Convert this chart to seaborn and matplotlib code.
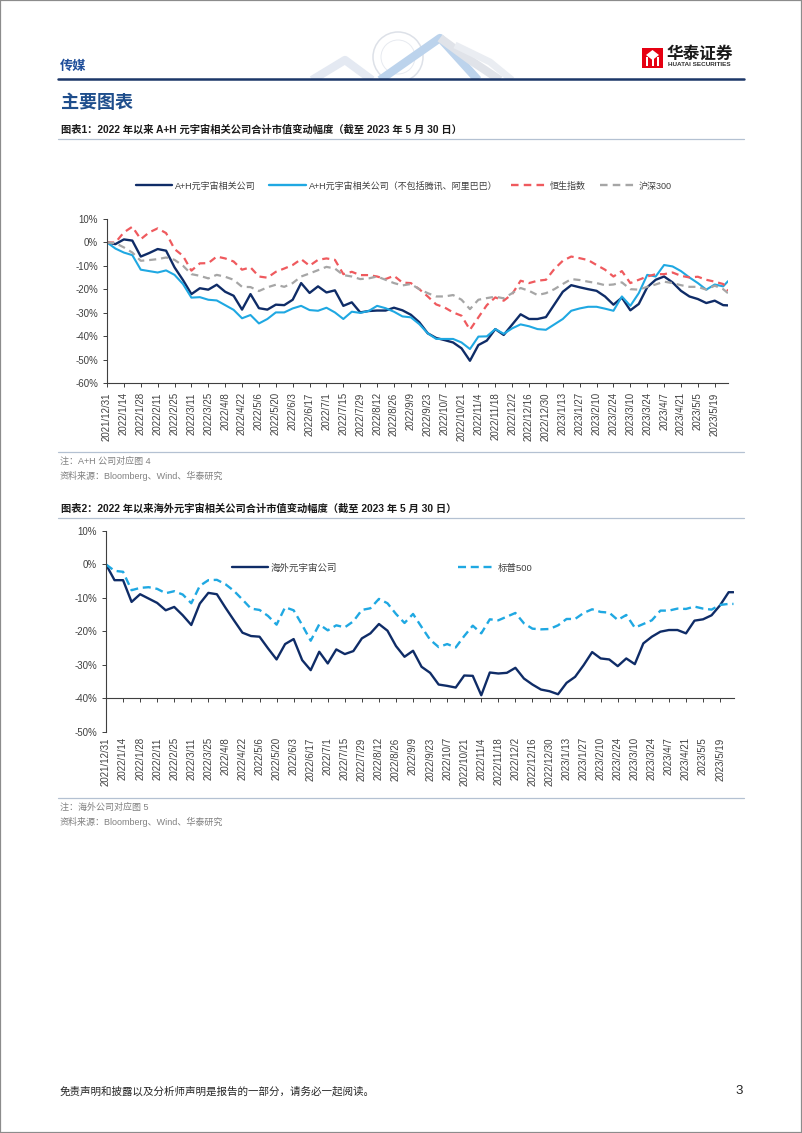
import matplotlib
matplotlib.use("Agg")
import matplotlib.pyplot as plt
import seaborn as sns
import pandas as pd
import numpy as np
import matplotlib.dates as mdates
from matplotlib.lines import Line2D
from matplotlib.patches import Rectangle, Circle, Polygon

sns.set_theme(style="white")
plt.rcParams["font.family"] = ["Liberation Sans", "Noto Sans CJK SC", "DejaVu Sans"]
plt.rcParams["axes.unicode_minus"] = False

# ---------------- data ----------------
dates = list(pd.date_range("2021-12-31", "2023-05-26", freq="7D")) + [pd.Timestamp("2023-05-30")]

tick_labels = ["2021/12/31", "2022/1/14", "2022/1/28", "2022/2/11", "2022/2/25", "2022/3/11",
               "2022/3/25", "2022/4/8", "2022/4/22", "2022/5/6", "2022/5/20", "2022/6/3",
               "2022/6/17", "2022/7/1", "2022/7/15", "2022/7/29", "2022/8/12", "2022/8/26",
               "2022/9/9", "2022/9/23", "2022/10/7", "2022/10/21", "2022/11/4", "2022/11/18",
               "2022/12/2", "2022/12/16", "2022/12/30", "2023/1/13", "2023/1/27", "2023/2/10",
               "2023/2/24", "2023/3/10", "2023/3/24", "2023/4/7", "2023/4/21", "2023/5/5",
               "2023/5/19"]

# chart 1 (%)
ah_all = [0, -0.7, 1.3, 0.8, -6.0, -4.5, -2.8, -3.5, -10.6, -16.0, -22.0, -19.5, -20.1, -18.0,
          -21.0, -22.7, -28.6, -22.0, -28.0, -28.6, -26.5, -26.7, -24.4, -17.3, -21.5, -18.7,
          -21.3, -20.4, -27.0, -25.5, -29.8, -29.2, -29.0, -29.0, -27.8, -28.9, -30.8, -34.0,
          -38.7, -40.7, -41.6, -42.6, -45.1, -50.4, -43.7, -41.8, -36.9, -39.4, -35.0, -30.6,
          -32.6, -32.6, -31.8, -26.4, -21.0, -18.2, -19.1, -19.9, -20.6, -23.0, -26.5, -23.5,
          -28.9, -26.2, -19.1, -15.9, -14.5, -17.0, -20.6, -23.0, -24.1, -25.8, -24.8, -26.7,
          -26.8]
ah_ex = [0, -2.6, -4.3, -5.4, -11.6, -12.2, -12.8, -11.9, -13.8, -17.7, -23.5, -23.3, -24.4,
         -24.7, -26.7, -28.7, -32.3, -30.9, -34.5, -32.6, -29.8, -29.8, -28.1, -27.0, -28.8,
         -29.1, -27.8, -29.8, -32.6, -29.5, -30.0, -29.2, -27.0, -28.0, -29.5, -31.5, -31.9,
         -34.8, -38.7, -41.1, -41.1, -41.1, -42.6, -45.4, -40.1, -40.0, -36.9, -38.9, -36.6,
         -34.9, -35.7, -36.9, -37.2, -34.9, -32.6, -29.1, -28.1, -27.4, -27.4, -28.2, -29.1,
         -23.0, -27.0, -21.6, -13.8, -14.5, -9.6, -10.2, -12.2, -14.9, -17.3, -20.1, -17.9,
         -18.7, -16.5]
hsi = [0, 0.0, 4.3, 6.7, 1.4, 4.3, 6.0, 4.0, -2.8, -5.7, -12.0, -8.9, -8.8, -6.0, -6.8, -8.1,
       -11.6, -10.6, -14.5, -15.0, -12.5, -11.1, -9.6, -7.1, -9.9, -7.4, -6.8, -7.4, -13.5,
       -12.5, -13.9, -13.9, -14.5, -15.6, -14.2, -17.1, -17.3, -19.9, -23.0, -26.4, -27.7,
       -29.8, -31.2, -37.2, -31.9, -26.7, -23.4, -24.8, -22.0, -16.3, -17.3, -16.3, -15.9,
       -11.3, -7.8, -6.0, -6.7, -7.5, -9.6, -11.6, -14.5, -12.2, -17.3, -15.9, -14.5, -13.5,
       -13.5, -12.8, -14.2, -14.9, -14.6, -15.9, -16.7, -17.7, -20.6]
csi300 = [0, -0.3, -2.1, -4.3, -7.8, -7.5, -7.1, -6.4, -7.4, -9.9, -13.5, -14.2, -15.3, -13.8,
          -14.6, -15.9, -18.9, -19.0, -20.7, -19.1, -18.0, -18.9, -17.3, -14.5, -13.2, -11.8,
          -10.4, -11.1, -13.9, -14.5, -15.6, -15.3, -14.5, -15.9, -17.3, -18.3, -17.7, -19.9,
          -21.6, -23.0, -23.0, -22.4, -24.4, -28.4, -24.4, -23.7, -23.1, -23.8, -21.6, -19.4,
          -20.6, -22.4, -21.6, -19.9, -17.7, -15.6, -16.0, -16.7, -17.3, -18.2, -17.9, -17.0,
          -19.9, -20.1, -18.9, -17.9, -16.7, -17.3, -18.2, -18.9, -18.9, -20.1, -18.4, -19.9,
          -21.6]

# chart 2 (%)
overseas = [0, -4.7, -4.7, -11.2, -8.9, -10.2, -11.5, -13.7, -12.7, -15.2, -18.1, -11.7, -8.5,
            -8.9, -12.9, -16.7, -20.4, -21.4, -21.6, -25.1, -28.4, -23.8, -22.3, -28.6, -31.6,
            -26.1, -29.6, -25.4, -26.8, -25.9, -22.1, -20.6, -17.8, -19.8, -24.4, -27.6, -25.8,
            -30.6, -32.4, -35.9, -36.3, -36.8, -33.2, -33.3, -39.1, -32.3, -32.6, -32.4, -30.9,
            -34.1, -35.9, -37.4, -37.9, -38.8, -35.4, -33.6, -30.1, -26.2, -28.1, -28.4, -30.4,
            -28.1, -29.8, -23.6, -21.6, -20.1, -19.6, -19.6, -20.6, -16.8, -16.4, -15.2, -12.2,
            -8.3, -8.3]
sp500 = [0, -1.9, -2.2, -7.7, -7.0, -6.8, -7.3, -8.6, -8.0, -9.0, -11.6, -6.4, -4.7, -4.6,
         -5.9, -7.9, -10.5, -13.2, -13.6, -15.4, -18.0, -12.8, -13.7, -18.1, -22.8, -17.9,
         -19.7, -18.2, -18.8, -17.0, -13.6, -13.1, -10.3, -11.6, -14.8, -17.5, -14.8, -18.7,
         -22.5, -24.7, -23.8, -24.8, -21.4, -18.3, -20.6, -16.4, -16.7, -15.6, -14.5, -17.6,
         -19.2, -19.4, -19.3, -18.2, -16.3, -16.3, -14.5, -13.4, -14.2, -14.4, -16.6, -15.1,
         -18.9, -17.8, -16.7, -13.8, -13.8, -13.2, -13.3, -12.6, -13.2, -13.5, -12.1, -11.8,
         -11.8]

series1 = ["A+H元宇宙相关公司", "A+H元宇宙相关公司（不包括腾讯、阿里巴巴）", "恒生指数", "沪深300"]
series2 = ["海外元宇宙公司", "标普500"]

# ---------------- layout helpers ----------------
W, H = 802, 1133
fig = plt.figure(figsize=(W / 100, H / 100), dpi=100)
fig.patch.set_facecolor("white")


def fx(x):
    return x / W


def fy(y):
    return 1 - y / H


DARK = "#404040"
GREY_TXT = "#808080"
tick_dates = pd.date_range("2021-12-31", "2023-05-19", freq="14D")

# ---------------- page frame & header ----------------
fig.add_artist(Rectangle((0, 0), 1, 1, transform=fig.transFigure, fill=False,
                         edgecolor="#8c8c8c", lw=1.6))

# decorative watermark (globe + ribbons)
axd = fig.add_axes([fx(300), fy(80), fx(220), fy(30) - fy(80)])
axd.set_xlim(300, 520)
axd.set_ylim(80, 30)
axd.axis("off")
axd.add_patch(Circle((398, 57), 25, fill=False, ec="#dde1e8", lw=1.1))
axd.add_patch(Circle((398, 57), 17, fill=False, ec="#e7eaf0", lw=0.7))
axd.plot([312, 345, 372], [80, 60, 80], color="#e4e9f2", lw=6, solid_capstyle="butt")
axd.plot([380, 440, 478], [80, 38, 80], color="#bcd3ec", lw=6, solid_capstyle="butt")
axd.plot([440, 470, 500], [38, 60, 80], color="#e0e3e9", lw=6, solid_capstyle="butt")
axd.plot([455, 490, 512], [45, 62, 80], color="#eaedf2", lw=5, solid_capstyle="butt")

fig.text(fx(60), fy(67), "传媒", fontsize=9.5, fontweight="bold", color="#1F4E9A", va="center")

# logo
fig.add_artist(Rectangle((fx(642), fy(68)), fx(21), fy(48) - fy(68), transform=fig.transFigure,
                         facecolor="#E60012", edgecolor="none"))
for xx in (646, 651.5, 657):
    fig.add_artist(Rectangle((fx(xx), fy(66)), fx(2), fy(57) - fy(66), transform=fig.transFigure,
                             facecolor="white", edgecolor="none"))
fig.add_artist(Polygon([(fx(652.5), fy(50)), (fx(659), fy(55)), (fx(652.5), fy(60)), (fx(646), fy(55))],
                       closed=True, transform=fig.transFigure, facecolor="white", edgecolor="none"))
fig.text(fx(667), fy(54), "华泰证券", fontsize=12, fontweight="bold", color="#1a1a1a", va="center")
fig.text(fx(668), fy(65), "HUATAI SECURITIES", fontsize=4.6, fontweight="bold", color="#333333",
         va="center")

fig.add_artist(Line2D([fx(58), fx(744)], [fy(79), fy(79)], transform=fig.transFigure,
                      color="#1c3768", lw=1.8))

fig.text(fx(61), fy(103), "主要图表", fontsize=13, fontweight="bold", color="#1F4E8C", va="center")


def section(y_title, title, y_line):
    fig.text(fx(61), fy(y_title), title, fontsize=7.4, fontweight="bold", color="#1a1a1a",
             va="center")
    fig.add_artist(Line2D([fx(58), fx(744)], [fy(y_line), fy(y_line)], transform=fig.transFigure,
                          color="#b4c1d2", lw=0.9))


section(130, "图表1：2022 年以来 A+H 元宇宙相关公司合计市值变动幅度（截至 2023 年 5 月 30 日）", 139)
section(509, "图表2：2022 年以来海外元宇宙相关公司合计市值变动幅度（截至 2023 年 5 月 30 日）", 518)


def notes(y_line, y1, t1, y2, t2):
    fig.add_artist(Line2D([fx(58), fx(744)], [fy(y_line), fy(y_line)], transform=fig.transFigure,
                          color="#b4c1d2", lw=0.9))
    fig.text(fx(60), fy(y1), t1, fontsize=6.5, color=GREY_TXT, va="center")
    fig.text(fx(60), fy(y2), t2, fontsize=6.5, color=GREY_TXT, va="center")


notes(452, 461, "注：A+H 公司对应图 4", 476, "资料来源：Bloomberg、Wind、华泰研究")
notes(798, 807, "注：海外公司对应图 5", 822, "资料来源：Bloomberg、Wind、华泰研究")

fig.text(fx(60), fy(1091), "免责声明和披露以及分析师声明是报告的一部分，请务必一起阅读。",
         fontsize=7.6, color="#262626", va="center")
fig.text(fx(743), fy(1091), "3", fontsize=9.5, color="#262626", va="center", ha="right")


def pct(v, pos=None):
    return f"{v:.0f}%"


def style_axes(ax, ymin, ymax):
    ax.set_xlim(dates[0], dates[-1])
    ax.set_ylim(ymin, ymax)
    ax.set_yticks(np.arange(ymin, ymax + 1, 10))
    ax.yaxis.set_major_formatter(plt.FuncFormatter(pct))
    for s in ("top", "right"):
        ax.spines[s].set_visible(False)
    for s in ("left", "bottom"):
        ax.spines[s].set_color(DARK)
        ax.spines[s].set_linewidth(0.8)
    ax.set_xticks(tick_dates)
    ax.set_xticklabels(tick_labels, rotation=90, ha="center", va="top")
    ax.tick_params(axis="both", labelsize=7, colors=DARK, direction="out", length=3, width=0.7,
                   left=True, bottom=True)
    ax.set_xlabel("")
    ax.set_ylabel("")
    ax.grid(False)
    ax.set_facecolor("none")


# ---------------- chart 1 ----------------
ax1 = fig.add_axes([fx(107), fy(383.3), fx(728) - fx(107), fy(219) - fy(383.3)])
df1 = pd.DataFrame({"date": dates * 4,
                    "value": ah_all + ah_ex + hsi + csi300,
                    "series": np.repeat(series1, len(dates))})
pal1 = dict(zip(series1, ["#0f2c67", "#1fa8e2", "#ef5a5e", "#a6a6a6"]))
dash1 = dict(zip(series1, ["", "", (3.2, 2.2), (3.2, 2.2)]))
sns.lineplot(data=df1, x="date", y="value", hue="series", style="series", hue_order=series1,
             style_order=series1, palette=pal1, dashes=dash1, ax=ax1, legend=False,
             linewidth=1.6, sort=False)
for ln, lw in zip(ax1.get_lines(), [1.7, 1.5, 1.6, 1.6]):
    ln.set_linewidth(lw)
style_axes(ax1, -60, 10)

handles1 = [Line2D([], [], color=pal1[s], lw=1.7,
                   linestyle="-" if dash1[s] == "" else (0, dash1[s])) for s in series1]
fig.legend(handles1, series1, loc="center", bbox_to_anchor=(fx(404), fy(186)), ncol=4,
           frameon=False, fontsize=6.5, handlelength=4.0, handletextpad=0.35, columnspacing=1.5,
           labelcolor=DARK)

# ---------------- chart 2 ----------------
ax2 = fig.add_axes([fx(106), fy(731.7), fx(733.5) - fx(106), fy(531) - fy(731.7)])
df2 = pd.DataFrame({"date": dates * 2,
                    "value": overseas + sp500,
                    "series": np.repeat(series2, len(dates))})
pal2 = dict(zip(series2, ["#0f2c67", "#1fa8e2"]))
dash2 = dict(zip(series2, ["", (3.4, 2.0)]))
sns.lineplot(data=df2, x="date", y="value", hue="series", style="series", hue_order=series2,
             style_order=series2, palette=pal2, dashes=dash2, ax=ax2, legend=False,
             linewidth=1.7, sort=False)
style_axes(ax2, -50, 10)
ax2.spines["bottom"].set_visible(False)
ax2.tick_params(axis="x", length=0, pad=4)

sec = ax2.secondary_xaxis((-40 - (-50)) / 60)
sec.set_xticks(mdates.date2num(tick_dates))
sec.set_xticklabels([])
sec.tick_params(axis="x", direction="out", length=3, width=0.7, colors=DARK)
for s in sec.spines.values():
    s.set_color(DARK)
    s.set_linewidth(0.8)

handles2 = [Line2D([], [], color=pal2[s], lw=1.7,
                   linestyle="-" if dash2[s] == "" else (0, dash2[s])) for s in series2]
fig.legend(handles2, series2, loc="center", bbox_to_anchor=(fx(382), fy(568)), ncol=2,
           frameon=False, fontsize=6.8, handlelength=3.8, handletextpad=0.35, columnspacing=12.8,
           labelcolor=DARK)

fig.savefig("out.png", dpi=100, facecolor="white")
